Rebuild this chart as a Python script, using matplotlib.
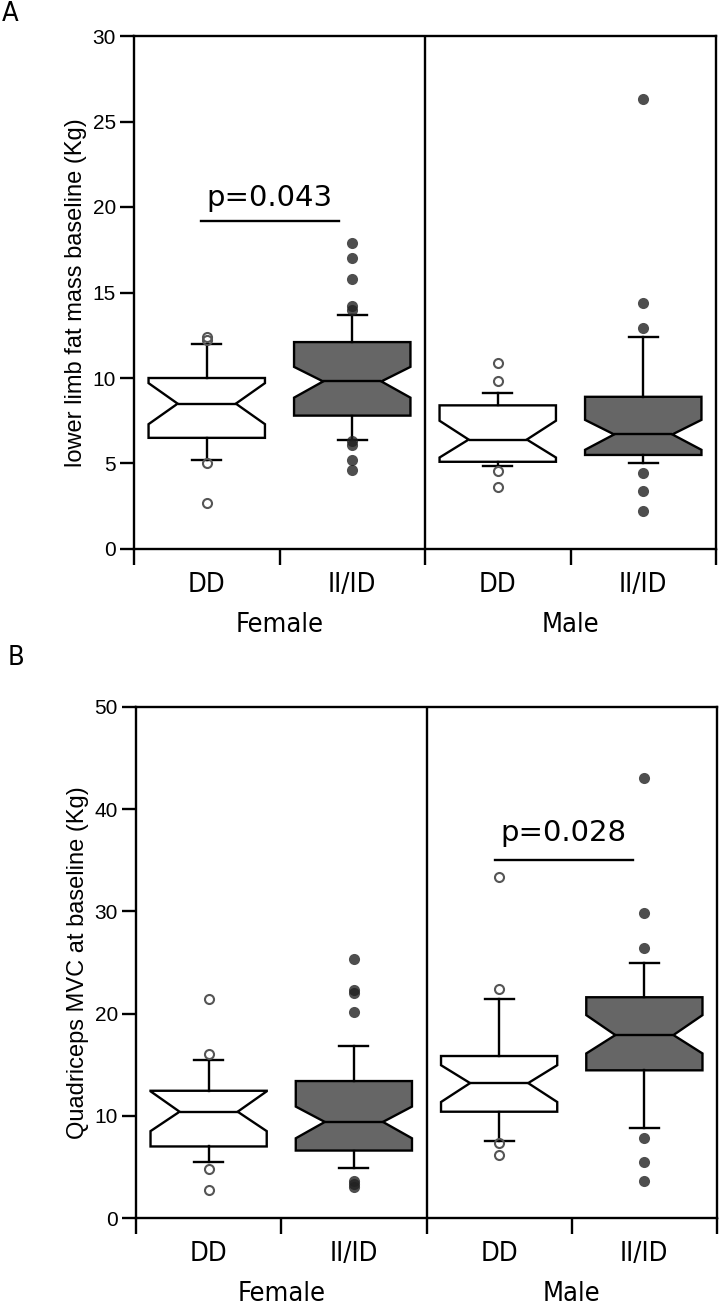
import matplotlib
matplotlib.use('Agg')
import matplotlib.pyplot as plt

groups = ['DD', 'II/ID', 'DD', 'II/ID']
sexes = ['Female', 'Male']

# panel A: lower limb fat mass (Kg)
a_q1 = [6.5, 7.8, 5.1, 5.5]
a_med = [8.5, 9.8, 6.4, 6.7]
a_q3 = [10.0, 12.1, 8.4, 8.9]
a_cilo = [7.3, 8.85, 5.35, 5.8]
a_cihi = [9.7, 10.65, 7.5, 7.55]
a_whislo = [5.2, 6.4, 4.85, 5.0]
a_whishi = [12.0, 13.7, 9.1, 12.4]
a_fliers = [[12.4, 12.2, 5.0, 2.7],
            [17.9, 17.0, 15.8, 14.2, 14.0, 6.3, 6.1, 5.2, 4.6],
            [10.9, 9.85, 4.55, 3.65],
            [26.3, 14.4, 12.9, 4.45, 3.4, 2.2]]

# panel B: quadriceps MVC (Kg)
b_q1 = [7.0, 6.6, 10.4, 14.45]
b_med = [10.4, 9.4, 13.2, 17.9]
b_q3 = [12.45, 13.4, 15.85, 21.6]
b_cilo = [8.5, 7.8, 11.35, 16.1]
b_cihi = [12.4, 10.9, 14.95, 19.85]
b_whislo = [5.45, 4.85, 7.55, 8.85]
b_whishi = [15.5, 16.8, 21.4, 25.0]
b_fliers = [[21.4, 16.0, 4.8, 2.75],
            [25.35, 22.35, 22.0, 20.15, 3.6, 3.3, 3.0],
            [33.4, 22.45, 7.3, 6.15],
            [43.1, 29.8, 26.45, 7.85, 5.45, 3.65]]

cond = dict(family='DejaVu Sans', stretch='condensed')
plt.rcParams['font.family'] = 'Liberation Sans'


def draw_panel(ax, q1, med, q3, cilo, cihi, lo, hi, fliers, ymax, step, ylabel):
    stats = []
    for i in range(4):
        stats.append(dict(q1=q1[i], med=med[i], q3=q3[i], cilo=cilo[i], cihi=cihi[i],
                          whislo=lo[i], whishi=hi[i], fliers=fliers[i]))
    common = dict(widths=0.8, capwidths=0.2, shownotches=True, patch_artist=True,
                  medianprops=dict(color='black', linewidth=1.7),
                  whiskerprops=dict(color='black', linewidth=1.7),
                  capprops=dict(color='black', linewidth=1.7),
                  manage_ticks=False)
    ax.bxp([stats[0], stats[2]], positions=[1, 3],
           boxprops=dict(facecolor='white', edgecolor='black', linewidth=1.7),
           flierprops=dict(marker='o', markerfacecolor='none', markeredgecolor='#555555',
                           markersize=6.5, markeredgewidth=1.5),
           **common)
    ax.bxp([stats[1], stats[3]], positions=[2, 4],
           boxprops=dict(facecolor='#666666', edgecolor='black', linewidth=1.7),
           flierprops=dict(marker='o', markerfacecolor='#222222', markeredgecolor='none',
                           markersize=8, alpha=0.8),
           **common)
    ax.axvline(2.5, color='black', linewidth=1.7)
    ax.set_xlim(0.5, 4.5)
    ax.set_ylim(0, ymax)
    ax.set_yticks(range(0, ymax + 1, step))
    ax.set_xticks([0.5, 1.5, 2.5, 3.5, 4.5])
    ax.set_xticklabels([])
    ax.tick_params(axis='x', length=11.5, width=1.7)
    ax.tick_params(axis='y', length=10, width=1.7, labelsize=15, pad=3)
    for s in ax.spines.values():
        s.set_linewidth(1.7)
    for i, g in enumerate(groups):
        ax.annotate(g, xy=(i + 1, 0), xycoords=('data', 'axes fraction'),
                    xytext=(0, -26), textcoords='offset points',
                    ha='center', va='center', fontsize=19.5, **cond)
    for i, s in enumerate(sexes):
        ax.annotate(s, xy=(1.5 + 2 * i, 0), xycoords=('data', 'axes fraction'),
                    xytext=(0, -55), textcoords='offset points',
                    ha='center', va='center', fontsize=19.5, **cond)
    ax.set_ylabel(ylabel, fontsize=17)
    ax.yaxis.set_label_coords(-0.1, 0.5)
    ax.yaxis.label.set_verticalalignment('center')


fig = plt.figure(figsize=(7.19, 13.05), dpi=100)

ax1 = fig.add_axes([134 / 719, 756 / 1305, 582 / 719, 513 / 1305])
draw_panel(ax1, a_q1, a_med, a_q3, a_cilo, a_cihi, a_whislo, a_whishi, a_fliers,
           30, 5, 'lower limb fat mass baseline (Kg)')
ax1.plot([0.96, 1.91], [19.2, 19.2], color='black', linewidth=1.7)
ax1.text(1.43, 20.05, 'p=0.043', ha='center', va='baseline', fontsize=21,
         family='DejaVu Sans')

ax2 = fig.add_axes([136 / 719, 87 / 1305, 581 / 719, 511 / 1305])
draw_panel(ax2, b_q1, b_med, b_q3, b_cilo, b_cihi, b_whislo, b_whishi, b_fliers,
           50, 10, 'Quadriceps MVC at baseline (Kg)')
ax2.plot([2.97, 3.92], [35.0, 35.0], color='black', linewidth=1.7)
ax2.text(3.44, 36.85, 'p=0.028', ha='center', va='baseline', fontsize=21,
         family='DejaVu Sans')

fig.text(2 / 719, 1 - 14 / 1305, 'A', ha='left', va='center', fontsize=19.5, **cond)
fig.text(8 / 719, 1 - 658 / 1305, 'B', ha='left', va='center', fontsize=19.5, **cond)

fig.savefig('out.png', dpi=100)
